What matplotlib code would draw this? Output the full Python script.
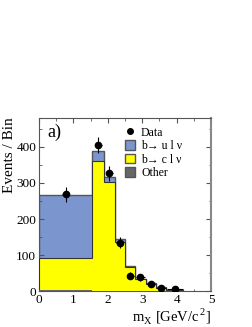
import matplotlib
matplotlib.use("Agg")
import matplotlib.pyplot as plt
from matplotlib.lines import Line2D
from matplotlib.patches import Patch
from matplotlib.ticker import MultipleLocator
import numpy as np

plt.rcParams['font.family'] = ['Liberation Serif', 'DejaVu Serif']
plt.rcParams['mathtext.fontset'] = 'custom'
plt.rcParams['mathtext.rm'] = 'Liberation Serif'

bin_edges = [0, 1.55, 1.9, 2.2, 2.5, 2.8, 3.1, 3.4, 3.7, 4.2]
other = [3, 2, 2, 2, 2, 1, 1, 1, 1]
b_to_c = [88, 358, 300, 135, 66, 32, 20, 9, 3]
b_to_u = [175, 28, 14, 7, 3, 2, 1, 1, 0]
data_y = [268, 404, 326, 135, 43, 39, 21, 10, 6]
data_err = [20, 22, 21, 14, 10, 9, 7, 5, 4]
data_xerr = [0.1, 0.1, 0.1, 0.1, 0.1, 0.12, 0.12, 0.13, 0.23]

edges = np.array(bin_edges)
centers = 0.5 * (edges[:-1] + edges[1:])
o = np.array(other)
c = o + np.array(b_to_c)
t = c + np.array(b_to_u)

fig = plt.figure(figsize=(2.53, 3.27), dpi=100)
ax = fig.add_axes([0.154, 0.109, 0.680, 0.531])

ec = '#555555'
ax.stairs(t, edges, fill=True, color='#7b96cf', zorder=1)
ax.stairs(t, edges, color=ec, lw=1.0, zorder=2)
ax.stairs(c, edges, fill=True, color='#ffff00', zorder=3)
ax.stairs(c, edges, color='#333333', lw=0.8, zorder=4)
ax.stairs(o, edges, fill=True, color='#666666', zorder=5)

ax.errorbar(centers, data_y, yerr=data_err, xerr=data_xerr, fmt='o',
            color='black', ms=4.5, elinewidth=0.8, capsize=0, zorder=6)

ax.set_xlim(0, 5)
ax.set_ylim(0, 480)
ax.xaxis.set_major_locator(MultipleLocator(1))
ax.xaxis.set_minor_locator(MultipleLocator(0.5))
ax.yaxis.set_major_locator(MultipleLocator(100))
ax.yaxis.set_minor_locator(MultipleLocator(50))
ax.tick_params(which='both', direction='in', top=True, right=True,
               labelsize=9.5, pad=2, color='#555555')
ax.tick_params(which='major', length=3.5)
ax.tick_params(which='minor', length=1.8)
for s in ax.spines.values():
    s.set_color('#555555')
    s.set_linewidth(0.8)
ax.spines['right'].set_color('#888888')
ax.spines['right'].set_linewidth(1.5)

ax.set_ylabel('Events / Bin', fontsize=11, loc='top', labelpad=0)
ax.set_xlabel(r'm$_{\mathrm{X}}$ [GeV/c$^{\,2}$]', fontsize=10.5, loc='right', labelpad=0)

ax.text(0.05, 0.915, 'a)', transform=ax.transAxes, fontsize=13, va='center')

handles = [Line2D([], [], marker='o', color='black', ls='none', ms=4),
           Patch(facecolor='#7b96cf', edgecolor=ec),
           Patch(facecolor='#ffff00', edgecolor=ec),
           Patch(facecolor='#666666', edgecolor=ec)]
labels = ['Data', 'b\u2192 u l \u03bd', 'b\u2192 c l \u03bd', 'Other']
ax.legend(handles, labels, loc='upper left', bbox_to_anchor=(0.47, 0.975),
          frameon=False, fontsize=8.5, handlelength=0.9, handleheight=0.9,
          handletextpad=0.5, labelspacing=0.12, borderaxespad=0)

fig.savefig('out.png', dpi=100)
